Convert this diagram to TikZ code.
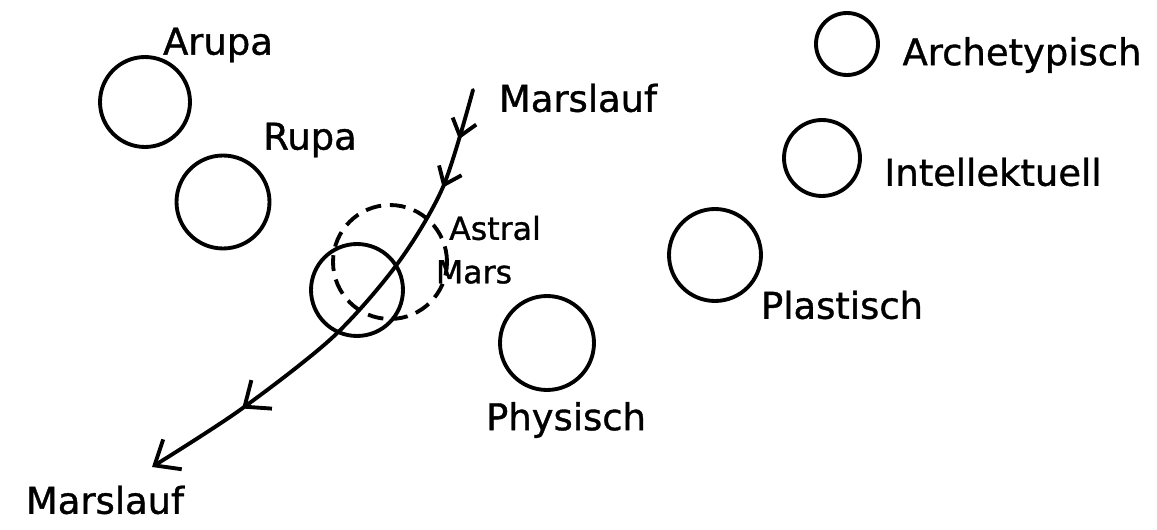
\documentclass[tikz,border=0pt]{standalone}
\usepackage{fontspec}
\setmainfont{DejaVu Sans}
\newfontfamily\handfont{DejaVu Sans}[FakeBold=1]
\usetikzlibrary{arrows.meta,decorations.markings}
\begin{document}
\begin{tikzpicture}[x=0.02cm,y=-0.02cm,
  ring/.style={circle,draw,line width=2.2pt,inner sep=0pt},
  dashring/.style={ring,dash pattern=on 9pt off 5pt},
  lbl/.style={font=\handfont\fontsize{21}{25}\selectfont,inner sep=0pt},
  smalllbl/.style={font=\handfont\fontsize{18}{22}\selectfont,inner sep=0pt},
  orbit/.style={line width=2.2pt,line cap=round},
  smallbarb/.tip={Straight Barb[length=9pt,width=14pt]},
  bigbarb/.tip={Straight Barb[length=12pt,width=20pt]}
]
\useasboundingbox (0,0) rectangle (1157,530);
% circles
\node[ring,minimum size=1.8cm]  (arupa) at (145,102) {};
\node[ring,minimum size=1.86cm] (rupa)  at (223,202) {};
\node[ring,minimum size=1.84cm] (mars)  at (357,290) {};
\node[dashring,minimum size=2.28cm] (astral) at (390,262) {};
\node[ring,minimum size=1.88cm] (phys)  at (547,343) {};
\node[ring,minimum size=1.84cm] (plast) at (715,255) {};
\node[ring,minimum size=1.52cm] (intel) at (822,158) {};
\node[ring,minimum size=1.24cm] (arche) at (847,44) {};
% labels
\node[lbl] (tArupa) at (218,45) {Arupa};
\node[lbl] (tRupa) at (310,140) {Rupa};
\node[lbl] (tMlTop) at (578,98) {Marslauf};
\node[smalllbl] (tAstral) at (495,228) {Astral};
\node[smalllbl] (tMars) at (474,272) {Mars};
\node[lbl] (tPhys) at (566,420) {Physisch};
\node[lbl] (tPlast) at (842,305) {Plastisch};
\node[lbl] (tIntel) at (993,172) {Intellektuell};
\node[lbl] (tArche) at (1022,55) {Archetypisch};
\node[lbl] (tMlBot) at (105,500) {Marslauf};
% orbit of Mars
\coordinate (m0) at (473,90);
\coordinate (m1) at (443,187);
\coordinate (m2) at (398,263);
\coordinate (m3) at (333,337);
\coordinate (m4) at (240,410);
\coordinate (m5) at (152,467);
\draw[orbit,-{bigbarb},
  postaction={decorate},
  decoration={markings,
    mark=at position 0.10 with {\arrow{smallbarb}},
    mark=at position 0.20 with {\arrow{smallbarb}},
    mark=at position 0.79 with {\arrow{bigbarb}}}]
  plot[smooth,tension=0.5] coordinates {(m0) (m1) (m2) (m3) (m4) (m5)};
\end{tikzpicture}
\end{document}
